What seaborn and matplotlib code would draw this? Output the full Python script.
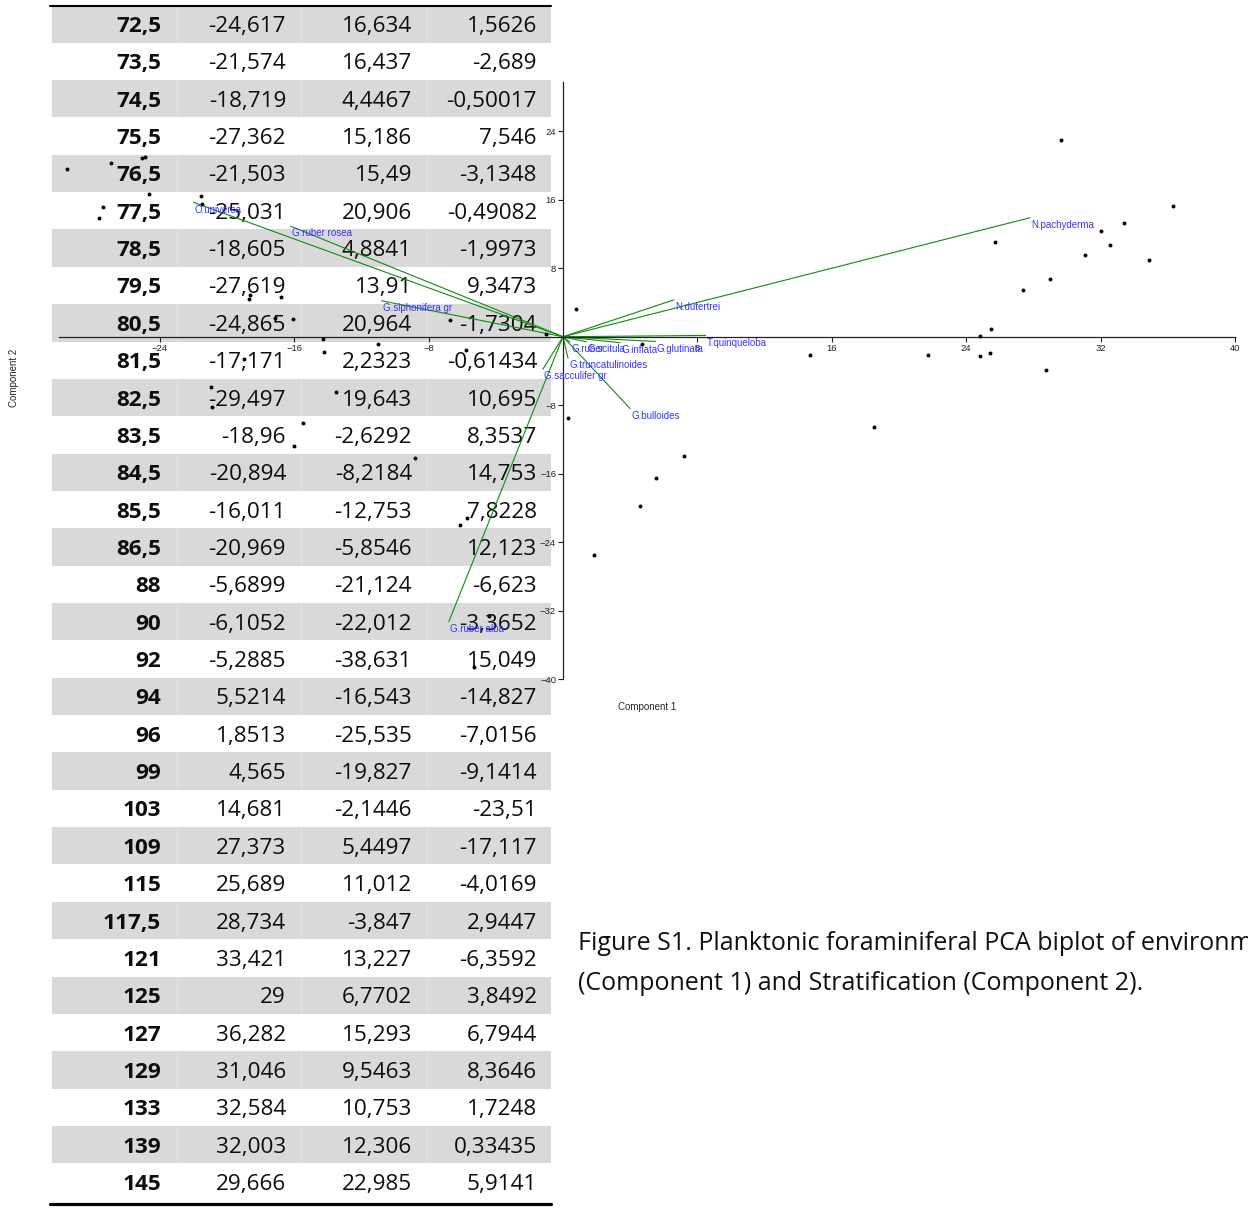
import matplotlib
matplotlib.use("Agg")
import matplotlib.pyplot as plt
import numpy as np
import seaborn as sns

# table rows (depth and PCA scores as printed, comma decimals)
depth = ["72,5", "73,5", "74,5", "75,5", "76,5", "77,5", "78,5", "79,5", "80,5",
         "81,5", "82,5", "83,5", "84,5", "85,5", "86,5", "88", "90", "92", "94",
         "96", "99", "103", "109", "115", "117,5", "121", "125", "127", "129",
         "133", "139", "145"]
pc1_txt = ["-24,617", "-21,574", "-18,719", "-27,362", "-21,503", "-25,031", "-18,605",
           "-27,619", "-24,865", "-17,171", "-29,497", "-18,96", "-20,894", "-16,011",
           "-20,969", "-5,6899", "-6,1052", "-5,2885", "5,5214", "1,8513", "4,565",
           "14,681", "27,373", "25,689", "28,734", "33,421", "29", "36,282", "31,046",
           "32,584", "32,003", "29,666"]
pc2_txt = ["16,634", "16,437", "4,4467", "15,186", "15,49", "20,906", "4,8841", "13,91",
           "20,964", "2,2323", "19,643", "-2,6292", "-8,2184", "-12,753", "-5,8546",
           "-21,124", "-22,012", "-38,631", "-16,543", "-25,535", "-19,827", "-2,1446",
           "5,4497", "11,012", "-3,847", "13,227", "6,7702", "15,293", "9,5463", "10,753",
           "12,306", "22,985"]
pc3_txt = ["1,5626", "-2,689", "-0,50017", "7,546", "-3,1348", "-0,49082", "-1,9973",
           "9,3473", "-1,7304", "-0,61434", "10,695", "8,3537", "14,753", "7,8228",
           "12,123", "-6,623", "-3,3652", "15,049", "-14,827", "-7,0156", "-9,1414",
           "-23,51", "-17,117", "-4,0169", "2,9447", "-6,3592", "3,8492", "6,7944",
           "8,3646", "1,7248", "0,33435", "5,9141"]

# samples shown in the biplot but not in the visible part of the table
extra_pc1 = [-26.9, -16.8, -16.1, -14.3, -14.2, -11.0, -6.7, -5.8, -1.0, -13.5, -15.5,
             -8.8, -4.4, 7.2, 18.5, 21.7, 24.8, 25.5, 24.8, 25.4, 34.9, 0.8, 4.7, 0.3]
extra_pc2 = [20.3, 4.6, 2.1, -0.3, -1.8, -0.9, 1.9, -1.6, 0.3, -6.4, -10.1,
             -14.2, -32.6, -13.9, -10.5, -2.1, 0.1, 0.9, -2.3, -1.9, 9.0, 3.2, -0.9, -9.5]

# species loadings
taxa = ["O.universa", "G.ruber rosea", "G.siphonifera gr", "N.pachyderma", "N.dutertrei",
        "T.quinqueloba", "G.glutinata", "G.inflata", "G.scitula", "G.ruber",
        "G.truncatulinoides", "G.sacculifer gr", "G.bulloides", "G.ruber alba"]
load_x = [-22.0, -16.2, -10.8, 27.8, 6.6, 8.5, 5.5, 3.4, 1.4, 0.4, 0.3, -1.2, 4.0, -6.8]
load_y = [15.7, 12.9, 4.2, 13.9, 4.3, 0.15, -0.55, -0.7, -0.6, -0.6, -2.5, -3.8, -8.4, -33.3]

xticks = [-24, -16, -8, 8, 16, 24, 32, 40]
yticks = [-40, -32, -24, -16, -8, 8, 16, 24]

caption = ["Figure S1. Planktonic foraminiferal PCA biplot of environm",
           "(Component 1) and Stratification (Component 2)."]


def to_num(values):
    return [float(v.replace(",", ".")) for v in values]


sns.set_style("white")
plt.rcParams["font.family"] = ["Liberation Sans", "DejaVu Sans"]

W, H = 1248, 1208
fig = plt.figure(figsize=(W / 100, H / 100), dpi=100)


def px_box(x0, y0, x1, y1):
    return [x0 / W, 1 - y1 / H, (x1 - x0) / W, (y1 - y0) / H]


# --- table ---
ax_t = fig.add_axes(px_box(50, 5.3, 551, 1200.7))
n = len(depth)
ax_t.set_xlim(0, 501)
ax_t.set_ylim(n, 0)
ax_t.axis("off")
rows = np.arange(n)
shaded = rows[rows % 2 == 0]
ax_t.barh(shaded + 0.5, 499, left=2, height=1, color="#d9d9d9", linewidth=0)
ax_t.vlines([127, 251, 377], shaded.min(), n, color="white", lw=0.8, alpha=0.3)
ax_t.axhline(0.02, color="black", lw=1.5, clip_on=False)
ax_t.axhline(32.09, color="black", lw=2.3, clip_on=False)

tfont = dict(family="Open Sans", size=16.2, va="center_baseline", ha="right",
             color="#0d0d0d")
for i in rows:
    y = i + 0.5
    ax_t.text(111, y, depth[i], fontweight="bold", **tfont)
    ax_t.text(236, y, pc1_txt[i], **tfont)
    ax_t.text(362, y, pc2_txt[i], **tfont)
    ax_t.text(487, y, pc3_txt[i], **tfont)

for k, line in enumerate(caption):
    fig.text(578 / W, 1 - (943 + 40 * k) / H, line, family="Open Sans", size=18,
             va="center", ha="left", color="#111111")

# --- biplot ---
ax = fig.add_axes(px_box(59, 82, 1235, 679.2))
ax.patch.set_alpha(0)
all_pc1 = to_num(pc1_txt) + extra_pc1
all_pc2 = to_num(pc2_txt) + extra_pc2
sns.scatterplot(x=all_pc1, y=all_pc2, ax=ax, color="black", s=8, linewidth=0,
                legend=False, zorder=3)
for name, lx, ly in zip(taxa, load_x, load_y):
    ax.plot([0, lx], [0, ly], color="#108c10", lw=0.8, zorder=2)
    ax.annotate(name, (lx, ly), xytext=(1, -1.6), textcoords="offset points",
                ha="left", va="top", color="#3535ff", fontsize=7)

ax.set_xlim(-30, 40)
ax.set_ylim(-40, 29.75)
ax.spines["left"].set_position(("data", 0))
ax.spines["bottom"].set_position(("data", 0))
ax.spines["top"].set_visible(False)
ax.spines["right"].set_visible(False)
for s in ("left", "bottom"):
    ax.spines[s].set_color("#222222")
    ax.spines[s].set_linewidth(0.9)
ax.set_xticks(xticks)
ax.set_yticks(yticks)
ax.tick_params(labelsize=6.8, length=3.5, width=0.8, pad=1.5, colors="#222222",
               bottom=True, left=True)

fig.text(647 / W, 1 - 707 / H, "Component 1", fontsize=7, ha="center", va="center")
fig.text(14 / W, 1 - 378 / H, "Component 2", fontsize=7, ha="center", va="center",
         rotation=90)

fig.savefig("out.png", dpi=100)
